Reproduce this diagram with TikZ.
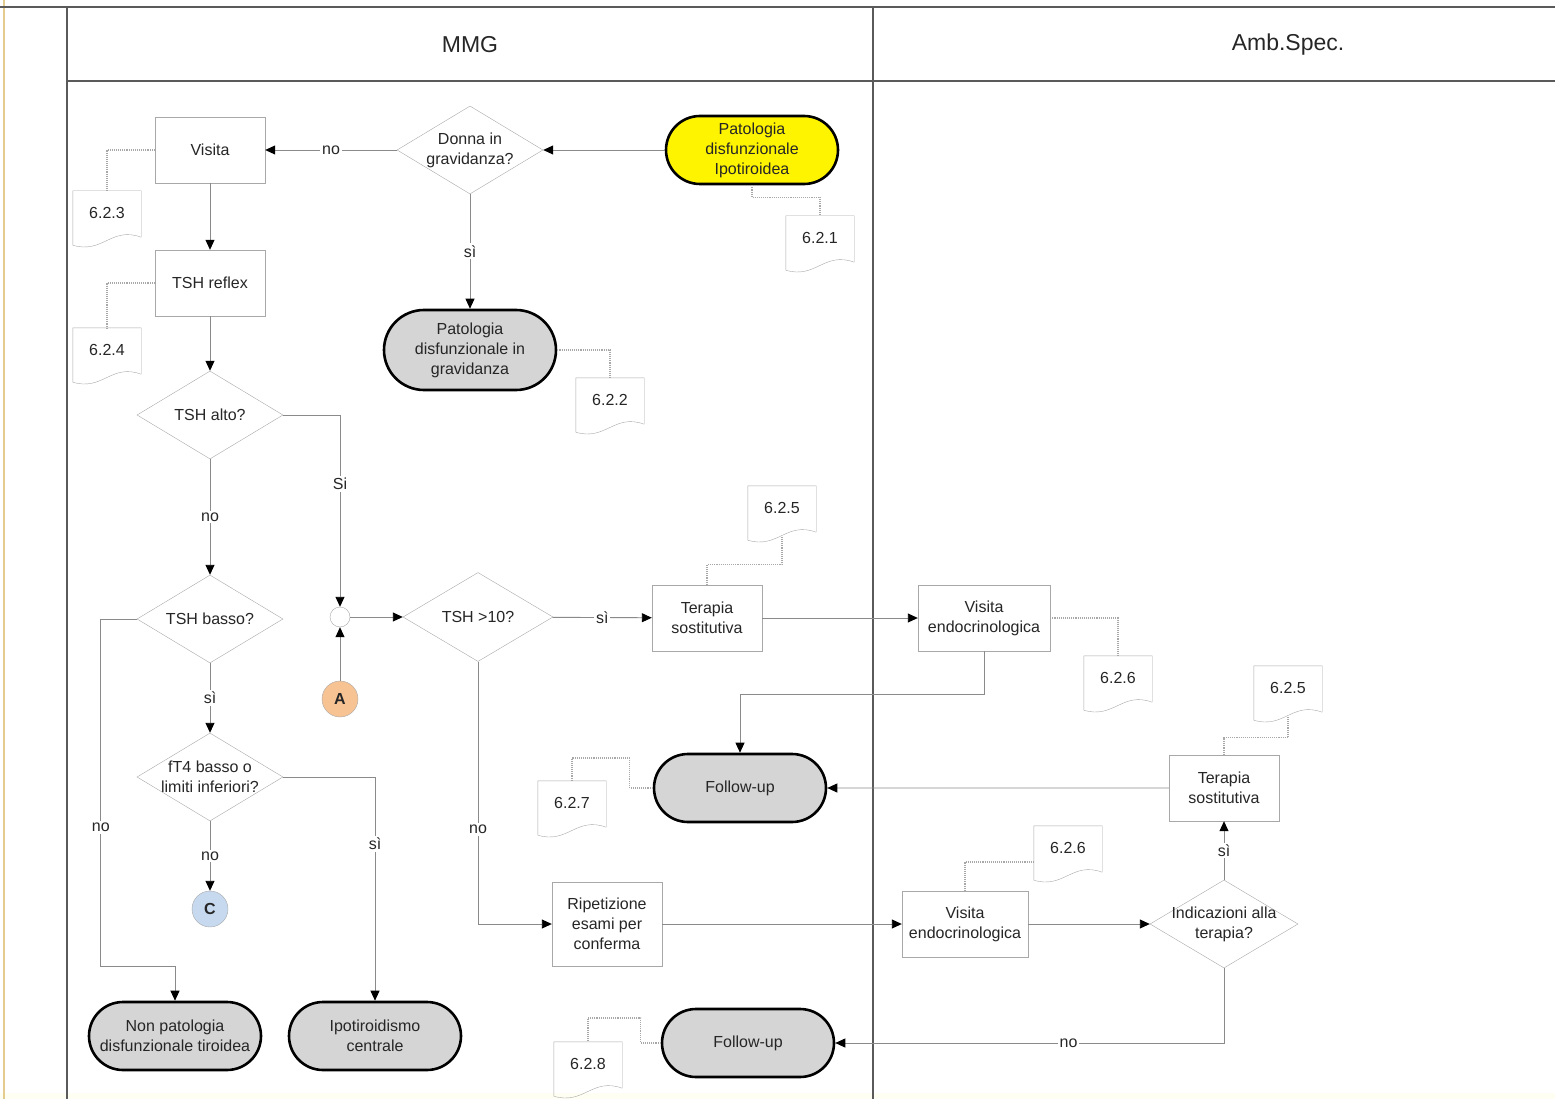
\documentclass[tikz,border=0pt]{standalone}
\usepackage{fontspec}
\setmainfont{Liberation Sans}
\usetikzlibrary{shapes.geometric,shapes.misc,arrows.meta}

\definecolor{linegray}{HTML}{8A8A8A}
\definecolor{boxgray}{HTML}{A8A8A8}
\definecolor{lanegray}{HTML}{5A5A5A}
\definecolor{endgray}{HTML}{D5D5D5}
\definecolor{startyellow}{HTML}{FFF400}
\definecolor{peach}{HTML}{F7C393}
\definecolor{paleblue}{HTML}{C6D9EF}
\definecolor{margintan}{HTML}{E3CC8E}

\newcommand{\nodefont}{\fontsize{16}{20}\selectfont}
\newcommand{\headfont}{\fontsize{23}{27}\selectfont}
% reference document with wavy bottom
\newcommand{\docref}[3]{%
  \node[docnote] (#1) at (#2) {#3};
  \draw[boxgray] ([yshift=-2]#1.south east) -- (#1.north east) -- (#1.north west) -- ([yshift=-10]#1.south west)
    .. controls ([xshift=30,yshift=-19]#1.south west) and ([xshift=-30,yshift=9]#1.south east) .. ([yshift=-2]#1.south east);}

\tikzset{
  lane/.style={lanegray, line width=1.1},
  process/.style={rectangle, draw=boxgray, fill=white, text=black!85, font=\nodefont, align=center,
    minimum width=110, minimum height=66, inner sep=2},
  decision/.style={diamond, draw=boxgray, fill=white, inner sep=0, minimum width=146, minimum height=88,
    label={[text=black!85, font=\nodefont, align=center]center:#1}},
  terminal/.style={rounded rectangle, draw=black, line width=2.6, fill=endgray, inner sep=0,
    minimum width=172, minimum height=68,
    label={[text=black!85, font=\nodefont, align=center]center:#1}},
  connector/.style={circle, draw=boxgray, minimum size=36, inner sep=0, text=black!85, font=\bfseries\nodefont},
  docnote/.style={rectangle, minimum width=68, minimum height=44, inner sep=0, text=black!85, font=\nodefont},
  flow/.style={linegray, line width=0.9, -{Triangle[color=black, length=10pt, width=9pt]}},
  noteline/.style={boxgray, densely dotted, line width=1.1},
  lbl/.style={fill=white, inner sep=2, text=black!85, font=\nodefont},
}

\begin{document}
\begin{tikzpicture}[x=1pt, y=-1pt]
\useasboundingbox (0,0) rectangle (1555,1099);
% swimlanes
\fill[yellow!5] (0,1093) rectangle (1555,1099);
\draw[margintan, line width=1.5] (4,0) -- (4,1099);
\draw[lane] (0,7) -- (1555,7);
\draw[lane] (67,7) -- (67,1099);
\draw[lane] (873,7) -- (873,1099);
\draw[lane] (67,81) -- (1555,81);
\node[font=\headfont, text=black!85] (mmg) at (470,45) {MMG};
\node[font=\headfont, text=black!85] (amb) at (1288,45) {Amb.Spec.};

% MMG
\node[terminal={Patologia\\disfunzionale\\Ipotiroidea}, fill=startyellow] (start) at (752,150) {};
\node[decision={Donna in\\gravidanza?}] (preg) at (470,150) {};
\node[process] (visit) at (210,150) {Visita};
\node[process] (reflex) at (210,283) {TSH reflex};
\node[terminal={Patologia\\disfunzionale in\\gravidanza}, minimum height=80] (pregpat) at (470,350) {};
\node[decision={TSH alto?}] (high) at (210,415) {};
\node[decision={TSH basso?}] (low) at (210,619) {};
\node[decision={fT4 basso o\\limiti inferiori?}] (ft4) at (210,777) {};
\node[connector, fill=paleblue] (conC) at (210,909) {C};
\node[terminal={Non patologia\\disfunzionale tiroidea}] (nonpat) at (175,1036) {};
\node[terminal={Ipotiroidismo\\centrale}] (central) at (375,1036) {};
\node[circle, draw=boxgray, fill=white, minimum size=20, inner sep=0] (join) at (340,617) {};
\node[connector, fill=peach] (conA) at (340,699) {A};
\node[decision={TSH >10?}, minimum width=150, minimum height=89] (tsh10) at (478,617) {};
\node[process] (ther1) at (707,618) {Terapia\\sostitutiva};
\node[terminal={Follow-up}] (fu1) at (740,788) {};
\node[process, minimum height=84] (rep) at (607,924) {Ripetizione\\esami per\\conferma};
\node[terminal={Follow-up}] (fu2) at (748,1043) {};

% Amb.Spec.
\node[process, minimum width=132] (endo1) at (984,618) {Visita\\endocrinologica};
\node[process] (ther2) at (1224,788) {Terapia\\sostitutiva};
\node[process, minimum width=126] (endo2) at (965,924) {Visita\\endocrinologica};
\node[decision={Indicazioni alla\\terapia?}, minimum width=148] (ind) at (1224,924) {};

% references
\docref{d623}{107,213}{6.2.3}
\docref{d624}{107,350}{6.2.4}
\docref{d621}{820,238}{6.2.1}
\docref{d622}{610,400}{6.2.2}
\docref{d625a}{782,508}{6.2.5}
\docref{d626a}{1118,678}{6.2.6}
\docref{d625b}{1288,688}{6.2.5}
\docref{d627}{572,803}{6.2.7}
\docref{d626b}{1068,848}{6.2.6}
\docref{d628}{588,1064}{6.2.8}

\draw[noteline] (visit.west) -| (d623.north);
\draw[noteline] (reflex.west) -| (d624.north);
\draw[noteline] (start.south) -- ++(0,12) -| (d621.north);
\draw[noteline] (pregpat.east) -| (d622.north);
\draw[noteline] (ther1.north) -- ++(0,-20) -| ([yshift=-6]d625a.south);
\draw[noteline] (endo1.east) -| (d626a.north);
\draw[noteline] (ther2.north) -- ++(0,-17) -| ([yshift=-6]d625b.south);
\draw[noteline] (fu1.west) -- ++(-23,0) -- ++(0,-30) -| (d627.north);
\draw[noteline] (endo2.north) |- ([yshift=-14]d626b.west);
\draw[noteline] (fu2.west) -- ++(-20,0) -- ++(0,-25) -| (d628.north);

% flow
\draw[flow] (start) -- (preg);
\draw[flow] (preg) -- node[lbl]{no} (visit);
\draw[flow] (preg) -- node[lbl]{sì} (pregpat);
\draw[flow] (visit) -- (reflex);
\draw[flow] (reflex) -- (high);
\draw[flow] (high.east) -| node[lbl, pos=0.68]{Si} (join);
\draw[flow] (high) -- node[lbl]{no} (low);
\draw[flow] (low) -- node[lbl]{sì} (ft4);
\draw[flow] (ft4) -- node[lbl]{no} (conC);
\draw[flow] (ft4.east) -| node[lbl, pos=0.65]{sì} (central.north);
\draw[flow] (low.west) -- ++(-36,0) |- node[lbl, pos=0.3]{no} ([yshift=34]nonpat.north) -- (nonpat.north);
\draw[flow] (conA) -- (join);
\draw[flow] (join) -- (tsh10);
\draw[flow] (tsh10) -- node[lbl]{sì} (ther1);
\draw[flow] (tsh10.south) |- node[lbl, pos=0.32]{no} (rep.west);
\draw[flow] (ther1) -- (endo1);
\draw[flow] (endo1.south) -- ++(0,43) -| (fu1.north);
\draw[flow] (ther2) -- (fu1);
\draw[flow] (rep) -- (endo2);
\draw[flow] (endo2) -- (ind);
\draw[flow] (ind) -- node[lbl]{sì} (ther2);
\draw[flow] (ind.south) |- node[lbl, pos=0.7]{no} (fu2.east);
\end{tikzpicture}
\end{document}
